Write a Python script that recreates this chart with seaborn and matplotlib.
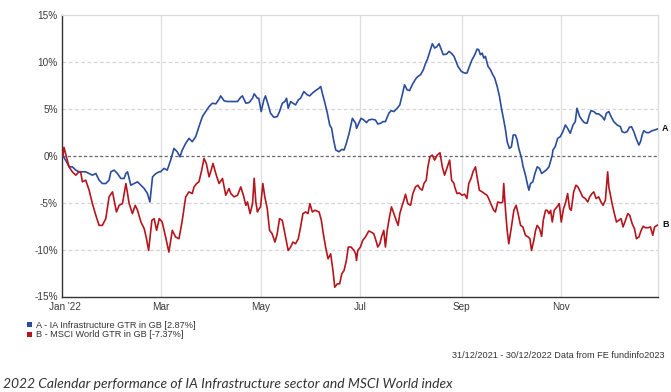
import numpy as np
import pandas as pd
import matplotlib
matplotlib.use("Agg")
import matplotlib.pyplot as plt
from matplotlib.patches import Patch
from matplotlib.ticker import FuncFormatter
import seaborn as sns

# ---------------- data (days after 31/12/2021, % total return) ----------------
start_date = "2021-12-31"
series_names = ["A - IA Infrastructure GTR in GB [2.87%]", "B - MSCI World GTR in GB [-7.37%]"]
end_labels = ["A", "B"]

blue_days = [0, 2.7, 3.7, 5.7, 7.8, 9.8, 11.9, 13.9, 16.0, 18.0, 20.1, 22.1, 24.1, 26.2, 28.2, 29.3, 31.3, 33.3,
             35.4, 37.4, 38.5, 39.5, 40.5, 41.5, 43.6, 45.6, 47.7, 49.7, 51.7, 53.2, 54.8, 56.9, 58.9,
             59.7, 61.8, 63.8, 65.9, 67.9, 69.9, 71.6, 73.0, 75.1, 77.1, 79.1, 81.2, 83.2, 85.3, 87.3, 89.4,
             91.4, 93.5, 95.5, 96.5, 98.6, 100.6, 102.7, 104.7, 106.8, 108.8, 109.8, 111.9, 113.9, 116.0, 117.0, 119.0,
             119.8, 121.3, 122.9, 123.9, 125.6, 127.0, 129.0, 131.1, 132.5, 134.2, 135.8, 136.8, 137.8, 139.3, 140.7,
             142.3, 144.0, 145.4, 147.4, 149.5, 150.9, 152.6, 154.6, 156.7, 157.7, 158.7, 160.3, 161.8, 163.2, 164.4,
             165.4, 166.9, 168.9, 170.6, 172.0, 173.4, 175.1, 177.1, 179.1,
             179.6, 181.0, 182.4, 184.1, 185.7, 187.1, 189.2, 191.2, 192.6, 194.3, 195.9, 197.3, 199.4, 200.8, 202.5,
             204.5, 206.1, 207.6, 209.0, 210.6, 212.1, 213.7, 215.7, 217.2, 218.8, 220.5, 221.9, 222.9, 224.5, 226.0,
             227.4, 228.6, 230.1, 231.5, 232.7, 234.8, 236.2, 237.6, 239.3,
             240.1, 241.7, 243.8, 245.8, 247.2, 248.7, 250.3, 252.0, 253.4, 254.4, 255.4, 256.5, 257.5, 258.5, 260.1,
             261.6, 263.0, 264.2, 265.7, 267.1, 268.3, 269.7, 270.8, 271.8, 273.2, 274.4, 275.5, 276.9, 277.9, 278.9,
             280.4, 281.6, 283.0, 284.1, 285.1, 286.1, 287.5, 288.8, 290.2, 291.6, 292.9, 294.3, 295.7, 297.4, 299.4,
             299.8, 301.2, 302.7, 304.3, 305.9, 307.4, 308.8, 310.4, 312.1, 313.5, 314.5, 316.2, 317.6, 319.0, 320.7,
             322.1, 323.1, 324.8, 326.4, 327.8, 329.9, 331.3, 332.5, 334.0, 335.4, 337.0, 339.1, 341.1, 342.1, 343.6,
             345.2, 346.6, 347.9, 349.3, 350.7, 352.4, 353.4, 354.4, 355.4, 357.1, 358.5, 360.5, 362.0, 364.0]
blue_vals = [0, -0.82, -1.18, -1.18, -1.53, -1.71, -1.71, -1.71, -1.89, -2.07, -1.89, -2.60, -2.96, -2.96, -2.60,
             -1.71, -1.53, -1.89, -2.42, -2.42, -1.89, -1.71, -2.42, -3.14, -2.96, -2.78, -3.14, -3.49, -4.03, -4.92,
             -2.25, -1.89, -1.71,
             -1.71, -1.35, -1.53, -0.46, 0.78, 0.43, -0.11, 0.61, 1.32, 1.85, 1.50, 2.03, 3.10, 4.17, 4.71, 5.24, 5.60,
             5.53, 6.02, 6.38, 5.85, 5.78, 5.78, 5.78, 5.78, 6.24, 6.38, 5.60, 5.67, 6.13, 6.60, 6.13,
             6.13, 4.71, 5.95, 6.38, 5.42, 4.53, 4.10, 4.17, 4.71, 5.60, 5.78, 6.13, 5.06, 5.78, 5.60, 5.42, 5.95, 6.13,
             6.84, 6.49, 6.38, 6.67, 6.95, 7.20, 7.38, 6.67, 5.60, 4.53, 3.28, 2.92, 1.85, 0.61, 0.43, 0.68, 0.61, 1.32,
             2.39, 3.99, 3.46,
             2.92, 3.46, 3.99, 3.81, 3.53, 3.81, 3.89, 3.81, 3.39, 3.46, 3.64, 3.64, 4.53, 4.81, 4.71, 5.06, 5.42, 6.49,
             7.56, 7.02, 6.95, 7.56, 8.16, 8.45, 8.63, 9.16, 9.87, 10.23, 11.12, 11.94, 11.48, 11.59, 11.94, 11.30,
             10.77, 10.84, 11.12, 10.94, 10.59,
             10.23, 9.52, 8.98, 8.81, 8.81, 9.52, 10.23, 10.77, 11.37, 11.30, 10.77, 10.94, 10.41, 10.59, 9.52, 9.16,
             8.63, 8.27, 7.38, 6.31, 5.06, 3.81, 2.75, 1.50, 0.78, 0.96, 2.21, 2.21, 1.68, 0.78, -0.11, -1.18, -2.07,
             -2.96, -3.67, -2.96, -2.78, -1.89, -1.18, -1.35, -1.89, -1.71, -1.53, -1.18, 0.07,
             0.61, 0.96, 1.85, 2.03, 2.57, 3.28, 2.92, 2.39, 3.28, 3.64, 5.06, 4.17, 3.81, 3.53, 3.46, 4.35, 4.81,
             4.71, 4.46, 4.46, 4.17, 3.81, 4.53, 4.71, 4.17, 3.64, 3.28, 3.10, 2.57, 2.46, 2.57, 3.03, 3.10, 2.57,
             1.85, 1.14, 1.50, 2.21, 2.67, 2.46, 2.46, 2.67, 2.74, 2.87]

red_days = [0, 0.6, 2.1, 3.7, 5.7, 7.8, 9.8, 10.8, 11.9, 13.9, 16.0, 18.0, 20.1, 22.1, 24.1, 26.2, 28.2, 30.3, 31.3,
            32.7, 34.4, 36.4, 38.5, 39.5, 40.5, 42.5, 44.2, 45.6, 47.7, 49.7, 51.1, 52.4, 54.4, 55.8, 57.3, 58.9,
            60.7, 62.8, 64.8, 66.9, 68.9, 71.0, 73.0, 75.1, 77.1, 79.1, 80.2, 81.8, 83.2, 84.9, 86.3, 87.7, 89.4,
            90.4, 91.8, 93.5, 95.5, 97.6, 99.6, 101.6, 102.7, 104.7, 106.8, 108.8, 110.4, 111.9, 112.9, 114.5, 116.0,
            117.0, 118.0, 119.0,
            119.4, 120.9, 122.3, 123.5, 125.0, 126.4, 128.0, 129.7, 131.1, 132.5, 134.2, 136.2, 137.8, 139.3, 140.7,
            142.3, 144.0, 145.4, 146.8, 148.5, 149.9, 151.1, 152.6, 154.2, 156.7, 158.1, 159.3, 160.7, 162.2, 163.8,
            165.2, 166.3, 167.9, 169.3, 170.6, 172.0, 173.4, 174.6, 176.3, 178.1, 179.1,
            179.6, 180.4, 182.0, 183.4, 185.1, 187.1, 188.5, 190.2, 191.8, 192.6, 193.9, 194.9, 196.3, 197.3, 198.4,
            199.8, 201.0, 202.5, 203.9, 205.1, 206.1, 207.6, 208.6, 209.6, 211.0, 212.7, 214.1, 215.7, 217.2, 218.4,
            219.8, 220.9, 222.3, 223.3, 224.5, 226.0, 227.4, 229.0, 230.7, 232.1, 233.5, 235.2, 236.6, 237.8, 239.3,
            239.7, 241.1, 242.5, 244.2, 245.8, 247.2, 248.3, 249.7, 250.9, 252.4, 253.4, 254.8, 256.5, 257.9, 259.5,
            260.5, 262.2, 263.6, 264.6, 266.1, 267.7, 269.1, 269.7, 270.8, 271.8, 272.8, 274.4, 275.9, 277.3, 278.5,
            280.0, 281.4, 283.0, 284.7, 285.7, 286.7, 288.1, 289.2, 290.2, 291.6, 292.9, 293.9, 295.3, 296.3, 297.4,
            298.4, 299.4,
            300.6, 302.3, 303.7, 304.9, 306.3, 307.4, 308.8, 310.0, 311.0, 312.5, 313.9, 315.1, 316.6, 318.0, 319.6,
            321.1, 322.3, 323.7, 324.8, 326.2, 327.8, 329.2, 330.5, 331.9, 332.5, 333.3, 334.0, 335.0, 336.0, 337.4,
            338.7, 340.1, 341.5, 342.7, 344.2, 345.6, 346.8, 348.3, 349.7, 350.9, 352.4, 353.8, 355.0, 356.4, 357.9,
            359.5, 360.9, 362.0, 364.0]
red_vals = [0, 0.9, -0.11, -1.18, -1.71, -2.07, -1.71, -1.71, -2.78, -2.60, -3.67, -5.10, -6.35, -7.42, -7.42, -6.70,
            -4.38, -3.85, -4.74, -5.99, -5.28, -5.10, -2.96, -4.03, -5.10, -6.17, -5.28, -5.81, -7.06, -7.77, -8.84,
            -10.09, -6.88, -6.70, -7.95, -6.70,
            -7.06, -8.66, -10.27, -7.95, -8.66, -8.84, -6.88, -4.38, -3.85, -4.03, -3.32, -2.96, -2.78, -1.53, -0.29,
            -0.82, -2.25, -1.71, -0.82, -1.89, -2.96, -2.42, -4.21, -3.49, -4.03, -4.38, -4.21, -3.32, -4.21, -5.28,
            -4.92, -6.17, -5.10, -2.40, -4.92, -5.99,
            -5.81, -5.45, -2.96, -4.38, -5.63, -7.95, -8.31, -9.20, -8.31, -6.70, -6.88, -8.66, -10.09, -9.73, -9.20,
            -9.38, -8.84, -7.59, -6.17, -5.99, -6.17, -5.10, -5.99, -5.81, -5.99, -6.88, -8.31, -9.73, -10.98, -10.45,
            -12.23, -14.01, -13.65, -13.65, -12.58, -12.23, -11.16, -9.73, -9.73, -10.09, -10.45,
            -11.16, -10.09, -9.73, -9.02, -8.66, -8.02, -8.13, -8.31, -9.20, -9.73, -9.38, -8.66, -7.95, -9.73, -7.95,
            -6.52, -5.45, -6.17, -6.88, -7.42, -6.17, -5.28, -4.74, -4.10, -5.10, -5.28, -4.03, -3.32, -3.14, -3.49,
            -3.67, -2.96, -2.60, -1.18, -0.11, 0.07, -0.46, 0.07, 0.32, -1.18, -2.07, -1.18, -0.46, -2.60, -2.96,
            -3.32, -4.03, -3.96, -4.21, -4.10, -4.56, -2.96, -2.42, -1.71, -1.18, -2.25, -3.67, -3.85, -4.03, -4.21,
            -4.56, -5.28, -5.81, -5.99, -4.92, -5.03, -4.92, -2.96, -5.81, -7.95, -9.38, -7.59, -5.81, -5.28, -6.17,
            -7.42, -7.59, -8.48, -8.66, -8.84, -10.09, -9.02, -7.95, -7.42, -7.77, -8.59, -6.88, -5.81, -5.81, -6.17,
            -5.81, -7.06,
            -5.81, -5.45, -5.10, -7.06, -5.63, -5.10, -4.03, -5.63, -5.81, -3.85, -3.14, -3.32, -3.85, -4.38, -4.56,
            -4.92, -4.38, -4.03, -3.85, -4.56, -4.38, -4.92, -5.28, -4.74, -3.49, -1.71, -3.32, -4.21, -5.10, -6.17,
            -7.06, -6.88, -6.70, -7.59, -6.88, -6.17, -6.35, -7.24, -7.77, -8.84, -8.66, -7.95, -7.52, -7.67, -7.67,
            -7.59, -8.48, -7.59, -7.37]

month_ticks = ["2022-01-01", "2022-03-01", "2022-05-01", "2022-07-01", "2022-09-01", "2022-11-01"]
month_labels = ["Jan '22", "Mar", "May", "Jul", "Sep", "Nov"]
y_ticks = [-15, -10, -5, 0, 5, 10, 15]

footer_text = "31/12/2021 - 30/12/2022 Data from FE fundinfo2023"
caption_text = "2022 Calendar performance of IA Infrastructure sector and MSCI World index"

# ---------------- build frame ----------------
base = pd.Timestamp(start_date)
df = pd.concat([
    pd.DataFrame({"date": base + pd.to_timedelta(blue_days, unit="D"), "value": blue_vals, "series": series_names[0]}),
    pd.DataFrame({"date": base + pd.to_timedelta(red_days, unit="D"), "value": red_vals, "series": series_names[1]}),
], ignore_index=True)

colors = {series_names[0]: "#2c4d9c", series_names[1]: "#b5161d"}

sns.set_style("white")
plt.rcParams["font.family"] = ["Liberation Sans", "DejaVu Sans"]

fig = plt.figure(figsize=(6.71, 3.92), dpi=100)
ax = fig.add_axes([62 / 671, 1 - 296.5 / 392, 596 / 671, (296.5 - 15) / 392])

sns.lineplot(data=df, x="date", y="value", hue="series", palette=colors, estimator=None,
             sort=False, legend=False, linewidth=1.2, ax=ax, zorder=3)

ax.set_xlim(base - pd.Timedelta(days=0.6), base + pd.Timedelta(days=364.1))
ax.set_ylim(-15, 15)

ax.set_yticks(y_ticks)
ax.yaxis.set_major_formatter(FuncFormatter(lambda v, p: f"{int(v)}%"))
ax.set_xticks(pd.to_datetime(month_ticks))
ax.set_xticklabels(month_labels)
ax.set_xlabel("")
ax.set_ylabel("")

ax.tick_params(axis="y", length=0, pad=3, labelsize=7.2, labelcolor="#3a3a3a")
ax.tick_params(axis="x", length=2.5, width=0.6, color="#555555", pad=1.5, labelsize=7.2, labelcolor="#3a3a3a")

# gridlines
for t in pd.to_datetime(month_ticks[1:]):
    ax.axvline(t, color="#dedede", lw=0.9, zorder=1)
for v in [-10, -5, 5, 10]:
    ax.axhline(v, color="#d6d6d6", lw=0.9, ls=(0, (3, 2)), zorder=1)
ax.axhline(0, color="#666666", lw=0.9, ls=(0, (2.5, 1.8)), zorder=2)

for s in ["top", "right"]:
    ax.spines[s].set_color("#dcdcdc")
    ax.spines[s].set_linewidth(0.9)
for s in ["left", "bottom"]:
    ax.spines[s].set_color("#333333")
    ax.spines[s].set_linewidth(1.0)

# end labels
for name, lab in zip(series_names, end_labels):
    sub = df[df.series == name]
    ax.annotate(lab, xy=(sub.date.iloc[-1], sub.value.iloc[-1]), xytext=(3, 0),
                textcoords="offset points", ha="left", va="center", fontsize=6.5,
                fontweight="bold", color="#111111", annotation_clip=False)

# legend
handles = [Patch(facecolor=colors[n], edgecolor="none") for n in series_names]
fig.legend(handles, series_names, loc="upper left", bbox_to_anchor=(27 / 671, 1 - 321 / 392),
           frameon=False, fontsize=6.6, handlelength=0.5, handleheight=0.5, handletextpad=0.5,
           labelspacing=0.05, borderpad=0, borderaxespad=0, labelcolor="#333333")

fig.text(665 / 671, 1 - 356 / 392, footer_text, ha="right", va="center", fontsize=6.55, color="#333333")
fig.text(3 / 671, 1 - 388 / 392, caption_text, ha="left", va="baseline", fontsize=10,
         style="italic", color="#333333", family=["Lato", "DejaVu Sans"])

fig.savefig("out.png", dpi=100)
